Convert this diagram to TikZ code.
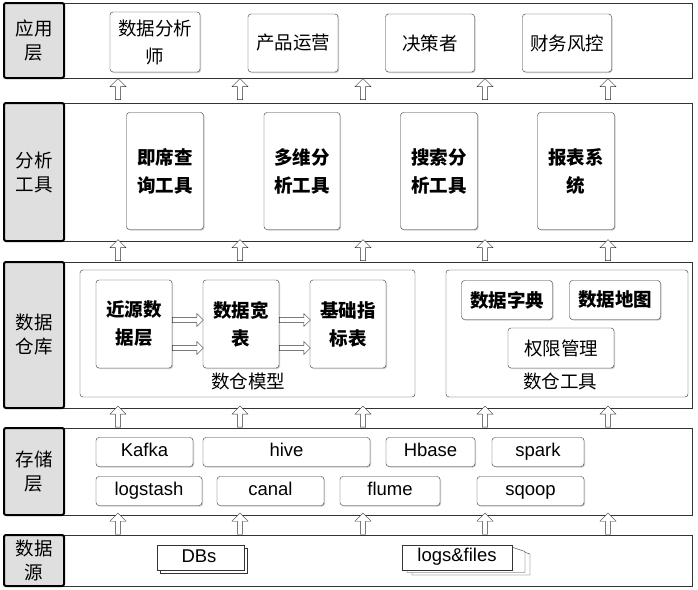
\documentclass[tikz,border=0pt]{standalone}
\usepackage{fontspec}
\setmainfont{Noto Sans CJK SC}
\newfontfamily\latinfont{Liberation Sans}
\usetikzlibrary{shapes.geometric, shapes.arrows, shadows, positioning}
\tikzset{
    % Layer frames
    layerFrame/.style={draw=black!80, fill=white, thick},
    layerLabel/.style={draw=black, fill=gray!25, line width=2pt, rounded corners=2pt,
        align=center, font=\fontsize{18.5}{24}\selectfont, inner sep=0pt},
    % Boxes
    itemBox/.style={draw=black!80, fill=white, rounded corners=3pt, align=center,
        drop shadow={shadow xshift=1pt, shadow yshift=-1pt, fill=black!40},
        font=\fontsize{18.5}{28}\selectfont, inner sep=0pt},
    toolBox/.style={itemBox, font=\bfseries\fontsize{18.5}{28}\selectfont},
    techBox/.style={itemBox, font=\latinfont\fontsize{18.5}{20}\selectfont,
        text height=13pt, text depth=4pt},
    groupBox/.style={draw=black!80, fill=white, rounded corners=3pt},
    groupLabel/.style={font=\fontsize{18.5}{20}\selectfont},
    upArrow/.style={single arrow, draw=black!80, fill=white, shape border rotate=90,
        minimum width=16pt, single arrow head extend=3.5pt, minimum height=21pt, inner sep=1.5pt},
    rightArrow/.style={single arrow, draw=black!80, fill=white,
        minimum width=13pt, single arrow head extend=2.5pt, minimum height=31pt, inner sep=1.5pt}
}
\begin{document}
\begin{tikzpicture}[x=1pt, y=-1pt]
    \useasboundingbox (0,0) rectangle (698,589);

    % --- Layer frames ---
    \foreach \name/\top/\bot/\txt in {app/3/78/{应用\\层}, tool/103/241/{分析\\工具},
        dw/262/408/{数据\\仓库}, store/428/515/{存储\\层}, src/535/586/{数据\\源}} {
        \draw [layerFrame] (30,\top) rectangle (692,\bot);
        \node [layerLabel, minimum width=60pt, minimum height={\bot-\top}] (lab-\name)
            at (34,{(\top+\bot)/2}) {\txt};
    }

    % --- Arrows between layers ---
    \foreach \ya in {90.5, 251.5, 418, 525} {
        \foreach \xa in {118, 240, 363, 485, 608} {
            \node [upArrow] at (\xa,\ya) {};
        }
    }

    % --- Application layer ---
    \node [itemBox, minimum width=90pt, minimum height=60pt] (analyst) at (155,42) {数据分析\\师};
    \node [itemBox, minimum width=90pt, minimum height=58pt] (ops) at (293,43) {产品运营};
    \node [itemBox, minimum width=89pt, minimum height=58pt] (decider) at (430,43) {决策者};
    \node [itemBox, minimum width=89pt, minimum height=58pt] (risk) at (567,43) {财务风控};

    % --- Analysis tools ---
    \node [toolBox, minimum width=77pt, minimum height=117pt] (adhoc) at (165,171) {即席查\\询工具};
    \node [toolBox, minimum width=76pt, minimum height=117pt] (olap) at (302,171) {多维分\\析工具};
    \node [toolBox, minimum width=77pt, minimum height=117pt] (search) at (439,171) {搜索分\\析工具};
    \node [toolBox, minimum width=77pt, minimum height=117pt] (report) at (576,171) {报表系\\统};

    % --- Data warehouse ---
    \draw [groupBox] (80,270) rectangle (415,397);
    \draw [groupBox] (446,270) rectangle (688,397);
    \node [groupLabel] (modelLab) at (248,381) {数仓模型};
    \node [groupLabel] (toolLab) at (560,381) {数仓工具};

    \node [toolBox, minimum width=76pt, minimum height=88pt] (ods) at (134,324) {近源数\\据层};
    \node [toolBox, minimum width=76pt, minimum height=88pt] (wide) at (241,324) {数据宽\\表};
    \node [toolBox, minimum width=76pt, minimum height=88pt] (base) at (348,324) {基础指\\标表};
    \foreach \a/\b in {ods/wide, wide/base} {
        \node [rightArrow, right=0pt of \a.east, yshift=-24pt, anchor=west] {};
        \node [rightArrow, right=0pt of \a.east, yshift=4pt, anchor=west] {};
    }

    \node [toolBox, minimum width=91pt, minimum height=39pt] (dict) at (507,300) {数据字典};
    \node [toolBox, minimum width=91pt, minimum height=39pt] (map) at (615,300) {数据地图};
    \node [itemBox, minimum width=106pt, minimum height=40pt] (auth) at (561,348) {权限管理};

    % --- Storage layer ---
    \node [techBox, minimum width=97pt, minimum height=29pt] (kafka) at (144.5,452) {Kafka};
    \node [techBox, minimum width=167pt, minimum height=29pt] (hive) at (286.5,452) {hive};
    \node [techBox, minimum width=89pt, minimum height=29pt] (hbase) at (430.5,452) {Hbase};
    \node [techBox, minimum width=92pt, minimum height=29pt] (spark) at (538,452) {spark};
    \node [techBox, minimum width=106pt, minimum height=29pt] (logstash) at (149,491) {logstash};
    \node [techBox, minimum width=107pt, minimum height=29pt] (canal) at (270.5,491) {canal};
    \node [techBox, minimum width=100pt, minimum height=29pt] (flume) at (390,491) {flume};
    \node [techBox, minimum width=107pt, minimum height=29pt] (sqoop) at (530.5,491) {sqoop};

    % --- Data sources ---
    \draw [draw=black!80, fill=white] (160,548) rectangle (247,573);
    \draw [draw=black!80, fill=white] (157,545) rectangle (244,570);
    \node [font=\latinfont\fontsize{18.5}{20}\selectfont, text height=13pt, text depth=4pt] (dbs) at (199,558) {DBs};
    \foreach \dx in {10,5} {
        \draw [draw=black!80, fill=white] ({402+\dx},{545+\dx/2}) -- ({508+\dx},{545+\dx/2})
            -- ({520+\dx},{549+\dx/2}) -- ({520+\dx},{570+\dx/2}) -- ({402+\dx},{570+\dx/2}) -- cycle;
    }
    \draw [draw=black!80, fill=white] (402,545) rectangle (512,570);
    \node [font=\latinfont\fontsize{18.5}{20}\selectfont, text height=13pt, text depth=4pt] (logs) at (457,557) {logs\&files};
\end{tikzpicture}
\end{document}
